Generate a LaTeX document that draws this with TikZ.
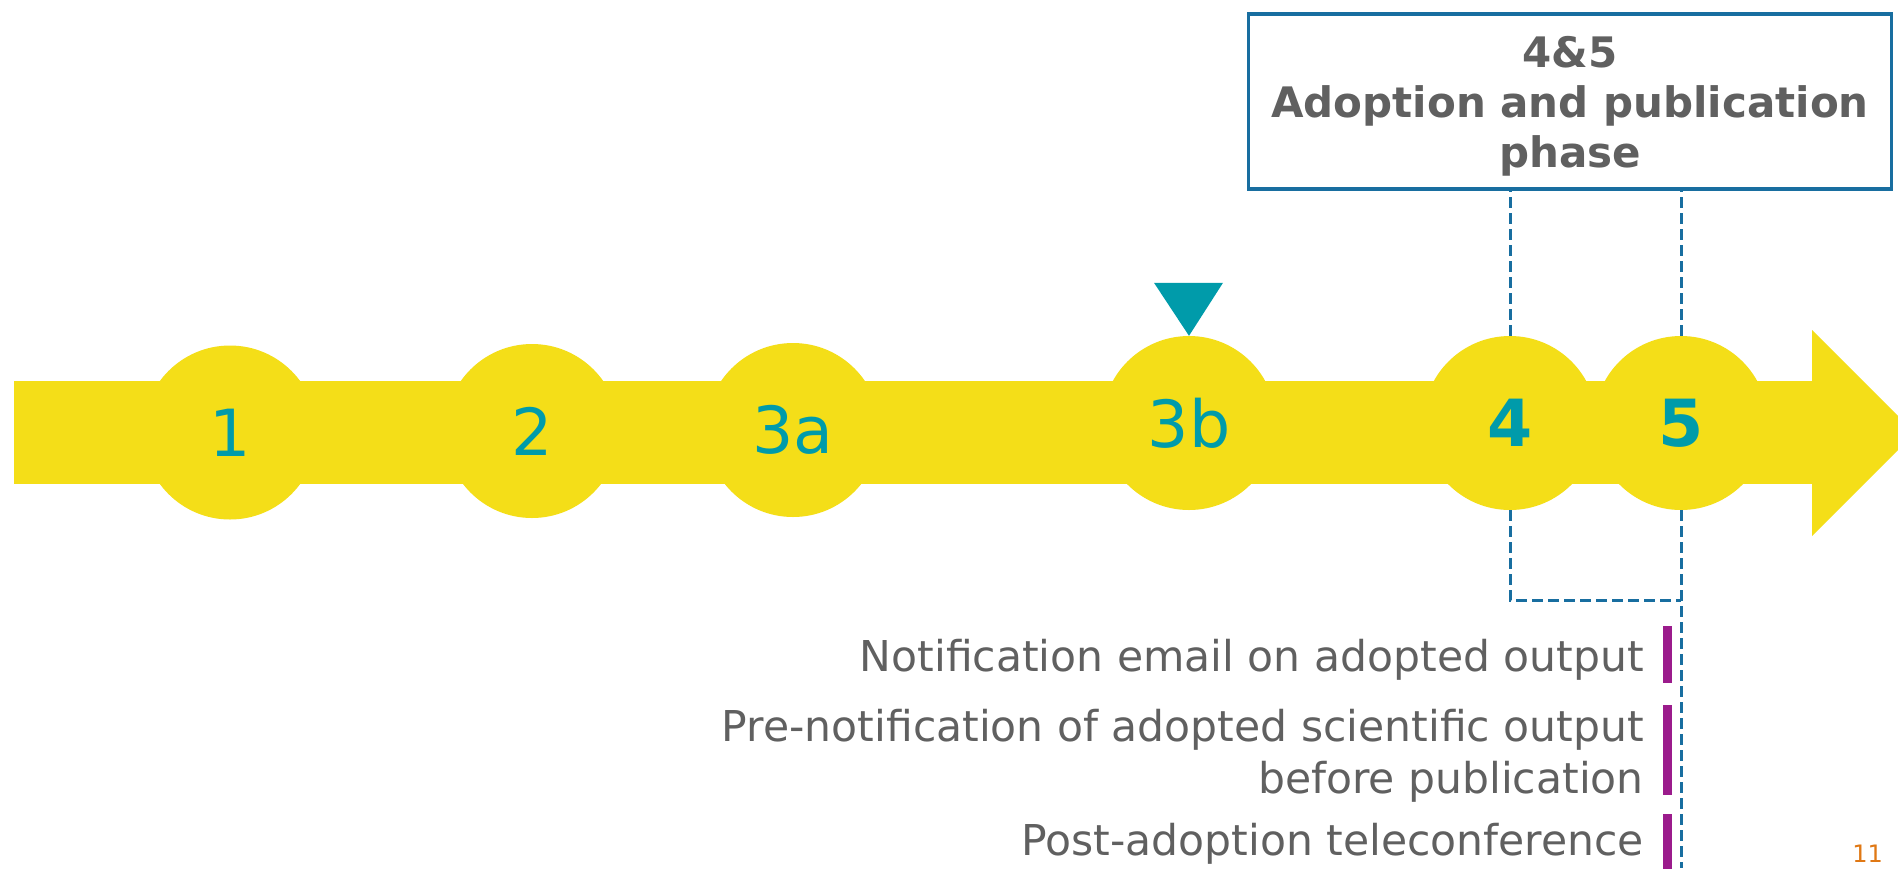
\documentclass[tikz,border=0pt]{standalone}
\usepackage{fontspec}
\setmainfont{DejaVu Sans}
\usetikzlibrary{positioning}
\definecolor{bandyellow}{RGB}{244,222,24}
\definecolor{stageteal}{RGB}{0,155,170}
\definecolor{itemgray}{RGB}{96,96,96}
\definecolor{linkblue}{RGB}{24,110,160}
\definecolor{tickpurple}{RGB}{155,27,140}
\definecolor{pageorange}{RGB}{224,120,20}
\begin{document}
\begin{tikzpicture}[x=1pt, y=-1pt,
  stage/.style={circle, fill=bandyellow, minimum size=174pt, inner sep=0pt,
    text=stageteal, font=\fontsize{65}{78}\selectfont},
  keystage/.style={stage, font=\fontsize{65}{78}\selectfont\bfseries},
  phasebox/.style={draw=linkblue, line width=3.5pt, minimum width=643pt,
    minimum height=175pt, align=center, text=itemgray, text depth=0pt,
    font=\fontsize{42}{50}\selectfont\bfseries},
  link/.style={draw=linkblue, line width=3pt, dash pattern=on 11pt off 5pt},
  item/.style={anchor=base east, align=right, inner sep=0pt, text=itemgray,
    font=\fontsize{42.5}{52}\selectfont},
  tick/.style={fill=tickpurple}]
  \useasboundingbox (0,0) rectangle (1898,868);
  \clip (0,0) rectangle (1898,868);
  \fill[white] (0,0) rectangle (1898,868);
  \fill[bandyellow] (14,381) rectangle (1812,484);
  \fill[bandyellow] (1812,330) -- (1915,433) -- (1812,536) -- cycle;
  \node[stage] (s1) at (230,432.5) {1};
  \node[stage] (s2) at (532,431) {2};
  \node[stage] (s3a) at (793,430) {3a};
  \node[stage] (s3b) at (1189,423) {3b};
  \node[keystage] (s4) at (1510,423) {4};
  \node[keystage] (s5) at (1681,423) {5};
  \fill[stageteal] (s3b.north) -- ++(-35,-53) -- ++(69,0) -- cycle;
  \node[phasebox] (phase) at (1570,101.5) {4\&5\\Adoption and publication\\phase};
  \draw[link] (s4.north) -- (s4.north |- phase.south);
  \draw[link] (s5.north) -- (s5.north |- phase.south);
  \coordinate (bend) at (1681,600);
  \coordinate (foot) at (1681,868);
  \draw[link] (s4.south) |- (bend);
  \draw[link] (s5.south) -- (foot);
  \node[item] (notify) at (1644,671) {Notification email on adopted output};
  \node[item] (prenotify) at (1644,793) {Pre-notification of adopted scientific output\\before publication};
  \node[item] (teleconf) at (1644,855) {Post-adoption teleconference};
  \fill[tick] (1663,626) rectangle (1672,683);
  \fill[tick] (1663,705) rectangle (1672,795);
  \fill[tick] (1663,814) rectangle (1672,880);
  \node[anchor=base east, inner sep=0pt, text=pageorange,
    font=\fontsize{24}{28}\selectfont] (page) at (1883,862) {11};
\end{tikzpicture}
\end{document}
